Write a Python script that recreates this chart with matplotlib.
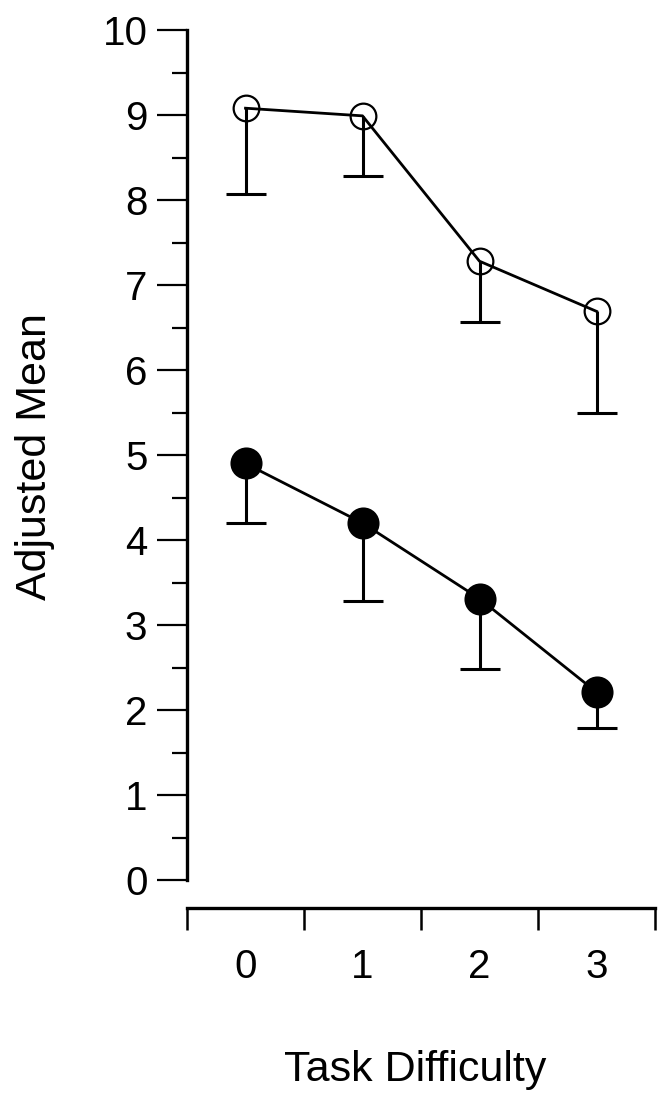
import matplotlib
matplotlib.use("Agg")
import matplotlib.pyplot as plt
import numpy as np

plt.rcParams['font.family'] = ['Liberation Sans', 'DejaVu Sans']

difficulty = [0, 1, 2, 3]
open_means = [9.08, 8.99, 7.28, 6.69]
open_lower = [8.07, 8.28, 6.57, 5.50]
filled_means = [4.90, 4.20, 3.31, 2.21]
filled_lower = [4.20, 3.28, 2.48, 1.79]

W, H = 670, 1101
fig = plt.figure(figsize=(W / 100, H / 100), dpi=100)
ax = fig.add_axes([187 / W, (H - 880) / H, (655 - 187) / W, 850 / H])

for means, lows, face, ms in [(open_means, open_lower, 'none', 18.5),
                              (filled_means, filled_lower, 'black', 21.5)]:
    means = np.array(means)
    lows = np.array(lows)
    # lower error bars only
    ax.vlines(difficulty, lows, means, color='black', lw=2.2, zorder=2)
    ax.plot(difficulty, lows, ls='none', marker='_', ms=29, mew=2.2,
            color='black', zorder=2)
    ax.plot(difficulty, means, color='black', lw=2, marker='o', ms=ms,
            mfc=face, mec='black', mew=1.6, zorder=3, clip_on=False)

ax.set_xlim(-0.5, 3.5)
ax.set_ylim(0, 10)

for s in ['top', 'right']:
    ax.spines[s].set_visible(False)
ax.spines['left'].set_linewidth(2.4)
ax.spines['bottom'].set_linewidth(2.4)
ax.spines['bottom'].set_position(('outward', 20))

ax.set_yticks(range(0, 11))
ax.set_yticks(np.arange(0.5, 10, 1), minor=True)
ax.tick_params(axis='y', which='major', length=21.5, width=1.6, pad=7,
               labelsize=29)
ax.tick_params(axis='y', which='minor', length=11, width=1.6)

ax.set_xticks(difficulty)
ax.set_xticks(np.arange(-0.5, 4, 1), minor=True)
ax.tick_params(axis='x', which='major', length=0, pad=29, labelsize=29)
ax.tick_params(axis='x', which='minor', length=16, width=1.8)

fig.text(35 / W, 1 - 457 / H, 'Adjusted Mean', rotation=90, fontsize=31,
         ha='center', va='center')
fig.text(415 / W, 1 - 1070 / H, 'Task Difficulty', fontsize=31,
         ha='center', va='center')

fig.savefig('out.png', dpi=100)
